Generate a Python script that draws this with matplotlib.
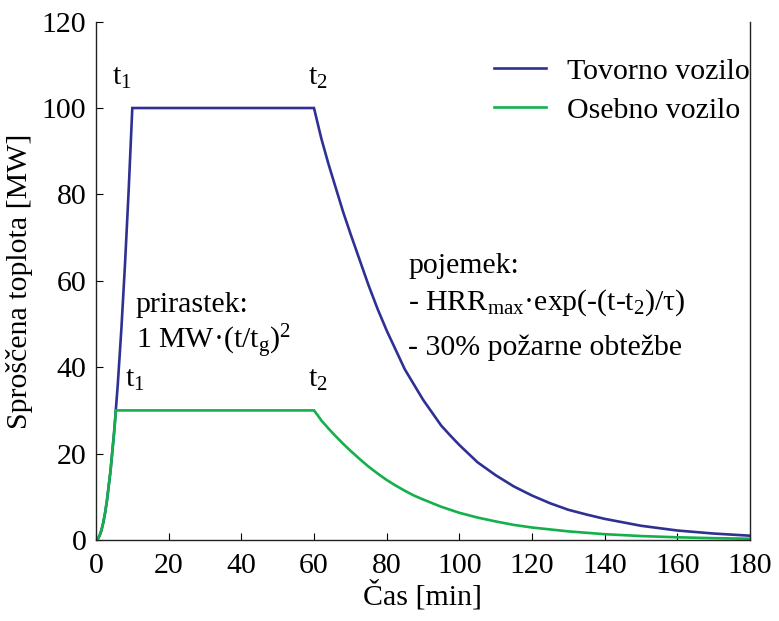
import numpy as np
import matplotlib
matplotlib.use("Agg")
import matplotlib.pyplot as plt

plt.rcParams['font.family'] = ['Liberation Serif', 'DejaVu Serif']
plt.rcParams['mathtext.fontset'] = 'custom'
plt.rcParams['mathtext.rm'] = 'Liberation Serif'
plt.rcParams['mathtext.it'] = 'Liberation Serif'

# Tovorno vozilo (truck): growth, plateau, decay  [min, MW]
t_truck = [0, 0.5, 1, 1.5, 2, 2.5, 3, 4, 5, 6, 7, 8, 9, 10,
           60, 61, 62, 64, 66, 68, 70, 72.5, 75, 77.5, 80, 82.5, 85, 87.5, 90,
           92.5, 95, 97.5, 100, 105, 110, 115, 120, 125, 130, 135, 140, 150, 160, 170, 180]
q_truck = [0, 0.25, 1, 2.25, 4, 6.25, 9, 16, 25, 36, 49, 64, 81, 100,
           100, 96.5, 93, 87, 81.5, 76, 71, 65, 59, 53.5, 48.5, 44, 39.5, 36, 32.5,
           29.5, 26.5, 24.2, 22, 18, 15, 12.4, 10.3, 8.5, 7.0, 5.9, 4.9, 3.3, 2.2, 1.5, 1.0]

# Osebno vozilo (car)
t_car = [0, 0.5, 1, 1.5, 2, 2.5, 3, 4, 5, 5.5,
         60, 61, 62, 64, 66, 68, 70, 72.5, 75, 77.5, 80, 82.5, 85, 87.5, 90,
         95, 100, 105, 110, 115, 120, 130, 140, 150, 160, 170, 180]
q_car = [0, 0.25, 1, 2.25, 4, 6.25, 9, 16, 25, 30,
         30, 28.9, 27.7, 25.8, 24.0, 22.3, 20.7, 18.8, 17.0, 15.4, 13.9, 12.6, 11.4, 10.3, 9.4,
         7.7, 6.3, 5.2, 4.3, 3.5, 2.9, 2.0, 1.35, 0.92, 0.63, 0.43, 0.3]

BLUE = "#2E3192"
GREEN = "#13B04B"
FS = 21.5

fig = plt.figure(figsize=(7.79, 6.21), dpi=100)
ax = fig.add_axes([0.1232, 0.1304, 0.8396, 0.8348])

ax.plot(t_truck, q_truck, color=BLUE, lw=1.9, label="Tovorno vozilo", solid_joinstyle='miter')
ax.plot(t_car, q_car, color=GREEN, lw=1.9, label="Osebno vozilo", solid_joinstyle='miter')

ax.set_xlim(0, 180)
ax.set_ylim(0, 120)
ax.set_xticks(np.arange(0, 181, 20))
ax.set_yticks(np.arange(0, 121, 20))
ax.tick_params(direction='in', length=5, width=0.8, labelsize=FS)
ax.tick_params(axis='x', pad=9)
ax.tick_params(axis='y', pad=7)
ax.spines['top'].set_visible(False)
for s in ('left', 'bottom', 'right'):
    ax.spines[s].set_linewidth(1.0)
    ax.spines[s].set_color('#222222')

ax.set_xlabel("Čas [min]", fontsize=FS, labelpad=1)
ax.set_ylabel("Sproščena toplota [MW]", fontsize=FS, labelpad=6)

# point labels
ax.text(4.3, 104, "t$_1$", fontsize=FS, ha='left', va='bottom')
ax.text(58.3, 104, "t$_2$", fontsize=FS, ha='left', va='bottom')
ax.text(8.0, 34, "t$_1$", fontsize=FS, ha='left', va='bottom')
ax.text(58.3, 34, "t$_2$", fontsize=FS, ha='left', va='bottom')

ax.text(11, 54.5, "prirastek:", fontsize=FS, ha='left', va='center')
ax.text(11, 46, "1 MW·(t/t$_\\mathrm{g}$)$^2$", fontsize=FS, ha='left', va='center')

ax.text(86, 63.5, "pojemek:", fontsize=FS, ha='left', va='center')
ax.text(86, 55, "- HRR$_\\mathrm{max}$·exp(-(t-t$_2$)/τ)", fontsize=FS, ha='left', va='center')
ax.text(86, 44.5, "- 30% požarne obtežbe", fontsize=FS, ha='left', va='center')

ax.legend(loc='upper right', bbox_to_anchor=(1.0, 0.93), frameon=False, fontsize=FS,
          handlelength=1.75, handletextpad=0.7, labelspacing=0.4, borderaxespad=0.0,
          borderpad=0.0)

fig.savefig("out.png", dpi=100)
